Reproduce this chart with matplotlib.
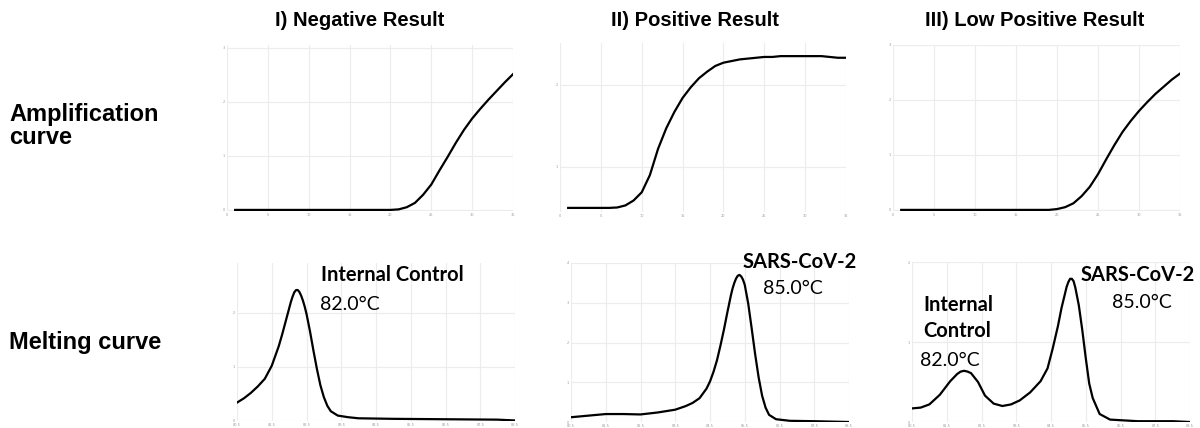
import matplotlib
matplotlib.use("Agg")
import matplotlib.pyplot as plt
from matplotlib import font_manager

# ---- data ----
cycles = list(range(1, 36))
amp_negative = [0.0] * 20 + [0.01, 0.05, 0.13, 0.28, 0.47, 0.73, 0.98, 1.24, 1.48,
                             1.69, 1.87, 2.04, 2.20, 2.36, 2.51]
amp_positive = [0.50] * 6 + [0.505, 0.53, 0.59, 0.69, 0.90, 1.22, 1.47, 1.67, 1.84,
                             1.97, 2.08, 2.16, 2.23, 2.27, 2.29, 2.31, 2.32, 2.33,
                             2.34, 2.34, 2.35, 2.35, 2.35, 2.35, 2.35, 2.35, 2.34,
                             2.33, 2.33]
amp_low = [0.0] * 19 + [0.015, 0.05, 0.12, 0.25, 0.42, 0.65, 0.92, 1.18, 1.42,
                        1.62, 1.80, 1.96, 2.11, 2.24, 2.37, 2.48]

melt_t_neg = [80.5, 80.7, 80.9, 81.1, 81.3, 81.5, 81.6, 81.7, 81.8, 81.9, 81.95,
              82.0, 82.05, 82.1, 82.15, 82.2, 82.25, 82.3, 82.35, 82.4, 82.45,
              82.5, 82.6, 82.7, 82.8, 82.9, 83.0, 83.1, 83.2, 83.4, 83.7, 84.0,
              85.0, 86.0, 87.0, 88.0, 88.5]
melt_neg = [0.34, 0.42, 0.52, 0.64, 0.78, 1.02, 1.20, 1.38, 1.60, 1.84, 1.96,
            2.08, 2.20, 2.30, 2.38, 2.42, 2.42, 2.38, 2.31, 2.22, 2.11,
            1.98, 1.66, 1.30, 0.96, 0.66, 0.44, 0.28, 0.18, 0.10, 0.07, 0.05,
            0.04, 0.035, 0.03, 0.025, 0.01]

melt_t_pos = [80.5, 81.0, 81.5, 82.0, 82.5, 83.0, 83.5, 83.8, 84.0, 84.2, 84.4,
              84.5, 84.6, 84.7, 84.8, 84.9, 85.0, 85.1, 85.15, 85.2, 85.25, 85.3,
              85.35, 85.4, 85.45, 85.5, 85.6, 85.7, 85.8, 85.9, 86.0, 86.1, 86.2,
              86.4, 86.8, 87.5, 88.5]
melt_pos = [0.12, 0.16, 0.20, 0.20, 0.19, 0.24, 0.31, 0.40, 0.48, 0.60, 0.84,
            1.02, 1.26, 1.55, 1.92, 2.32, 2.76, 3.18, 3.36, 3.50, 3.61, 3.68,
            3.70, 3.66, 3.58, 3.45, 2.98, 2.35, 1.70, 1.12, 0.66, 0.36, 0.18,
            0.07, 0.03, 0.02, 0.0]

melt_t_low = [80.5, 80.75, 81.0, 81.3, 81.6, 81.8, 81.9, 82.0, 82.1, 82.2, 82.4,
              82.6, 82.85, 83.1, 83.35, 83.6, 83.9, 84.2, 84.4, 84.55, 84.7, 84.8,
              84.9, 84.95, 85.0, 85.05, 85.1, 85.15, 85.2, 85.3, 85.4, 85.5, 85.6,
              85.7, 85.9, 86.2, 87.0, 88.0, 88.5]
melt_low = [0.17, 0.18, 0.22, 0.34, 0.51, 0.60, 0.63, 0.64, 0.63, 0.61, 0.50,
            0.33, 0.23, 0.20, 0.22, 0.27, 0.37, 0.51, 0.67, 0.92, 1.20, 1.42,
            1.60, 1.69, 1.75, 1.79, 1.79, 1.76, 1.68, 1.46, 1.15, 0.80, 0.48,
            0.30, 0.10, 0.03, 0.01, 0.01, 0.0]

col_titles = ["I) Negative Result", "II) Positive Result", "III) Low Positive Result"]
amp_xticks = [0, 5, 10, 15, 20, 25, 30, 35]
melt_xticks = [80.5, 81.5, 82.5, 83.5, 84.5, 85.5, 86.5, 87.5, 88.5]

# ---- fonts ----
installed = {f.name for f in font_manager.fontManager.ttflist}
title_font = "Liberation Sans Narrow" if "Liberation Sans Narrow" in installed else "Liberation Sans"
title_size = 17 if title_font == "Liberation Sans Narrow" else 14.5
ann_font = "Lato"

W, H = 1200, 428
fig = plt.figure(figsize=(12, 4.28), dpi=100)


def box(x0, y0, x1, y1):
    # pixel box (top-left origin) -> figure fraction rect
    return [x0 / W, 1 - y1 / H, (x1 - x0) / W, (y1 - y0) / H]


def style(ax, xticks, yticks):
    for s in ax.spines.values():
        s.set_visible(False)
    ax.set_xticks(xticks)
    ax.set_yticks(yticks)
    ax.grid(True, color="#ececec", linewidth=0.8)
    ax.tick_params(length=0, labelsize=2.5, labelcolor="#999999", pad=1.5)
    ax.set_axisbelow(True)


def px(x, y):
    return x / W, 1 - y / H


# amplification curves
amp_boxes = [box(227, 45, 513, 211), box(560, 43, 846, 212), box(893, 45, 1180, 211)]
amp_data = [amp_negative, amp_positive, amp_low]
amp_ylims = [(-0.02, 3.05), (0.45, 2.51), (-0.02, 3.0)]
amp_yticks = [[0, 1, 2, 3], [1, 2], [0, 1, 2, 3]]
for rect, vals, yl, yt in zip(amp_boxes, amp_data, amp_ylims, amp_yticks):
    ax = fig.add_axes(rect)
    ax.plot(cycles, vals, color="black", lw=1.6, solid_joinstyle="round")
    ax.set_xlim(0, 35)
    ax.set_ylim(*yl)
    style(ax, amp_xticks, yt)

# melting curves
melt_boxes = [box(237, 263, 515, 421), box(571, 263, 849, 422), box(912, 262, 1190, 422)]
melt_data = [(melt_t_neg, melt_neg), (melt_t_pos, melt_pos), (melt_t_low, melt_low)]
melt_ylims = [(0, 2.92), (0, 4.0), (0, 2.0)]
melt_yticks = [[0, 1, 2], [0, 1, 2, 3, 4], [0, 1, 2]]
for rect, (t, vals), yl, yt in zip(melt_boxes, melt_data, melt_ylims, melt_yticks):
    ax = fig.add_axes(rect)
    ax.plot(t, vals, color="black", lw=1.6, solid_joinstyle="round")
    ax.set_xlim(80.5, 88.5)
    ax.set_ylim(*yl)
    style(ax, melt_xticks, yt)

# column titles
for cx, title in zip([360, 695, 1035], col_titles):
    fig.text(*px(cx, 21), title, ha="center", va="center", fontsize=title_size,
             fontweight="bold", family=title_font)

# row labels
row = dict(ha="left", va="center", fontsize=17, fontweight="bold", family="Liberation Sans")
fig.text(*px(9, 115), "Amplification", **row)
fig.text(*px(9, 138), "curve", **row)
fig.text(*px(9, 343), "Melting curve", **row)

# peak annotations
bold = dict(fontsize=14.5, fontweight="bold", family=ann_font, va="center", ha="left")
reg = dict(fontsize=14, family=ann_font, va="center", ha="left")
fig.text(*px(321, 275), "Internal Control", **bold)
fig.text(*px(320, 304), "82.0°C", **reg)
fig.text(*px(743, 262), "SARS-CoV-2", **bold)
fig.text(*px(763, 289), "85.0°C", **reg)
fig.text(*px(1081, 275), "SARS-CoV-2", **bold)
fig.text(*px(1112, 303), "85.0°C", **reg)
fig.text(*px(923, 305), "Internal", **bold)
fig.text(*px(923, 331), "Control", **bold)
fig.text(*px(920, 361), "82.0°C", **reg)

fig.savefig("out.png", dpi=100)
